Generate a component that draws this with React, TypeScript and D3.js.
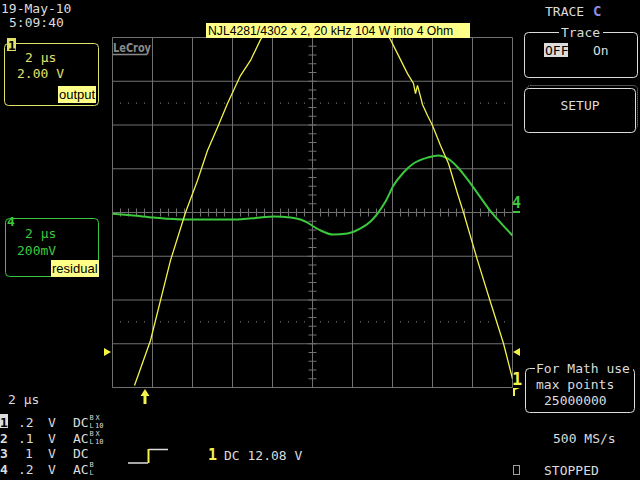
import React from "react";
import * as d3 from "d3";

// Channel 1 (output), time in µs, volts (2 V/div)
const ch1Time = [-8.9, -8.1, -7.1, -6.35, -5.75, -5.25, -4.75, -4.25, -3.6, -3.1, -2.6, -1.5, 0.65, 2.8, 3.9, 4.75, 5.05, 5.15, 5.25, 5.4, 5.5, 5.75, 6.0, 6.4, 6.8, 7.25, 7.55, 8.25, 8.9, 9.55, 10.0];
const ch1Volts = [-7.91, -5.85, -2.19, 0, 1.46, 2.83, 3.89, 4.98, 6.26, 6.95, 7.9, 9.5, 10.6, 9.5, 7.9, 6.35, 5.9, 5.44, 5.81, 5.3, 4.94, 4.43, 3.98, 3.06, 2.24, 0.87, 0, -2.19, -4.1, -5.99, -7.6];

// Channel 4 (residual), time in µs, mV (200 mV/div)
const ch4Time = [-10, -8.95, -7.95, -6.45, -3.95, -2.6, -1.95, -1.1, -0.6, -0.25, 0.05, 0.4, 1.05, 1.75, 2.4, 2.9, 3.25, 3.65, 4.05, 4.55, 5.05, 5.75, 6.3, 6.75, 7.4, 7.75, 8.05, 8.4, 8.8, 9.4, 10];
const ch4MilliVolts = [-6, -14, -23, -32, -32, -23, -18, -23, -32, -46, -64, -82, -101, -96, -73, -41, -5, 50, 123, 183, 224, 251, 261, 247, 192, 151, 114, 69, 18, -46, -105];

const title = "NJL4281/4302 x 2, 20 kHz 104 W into 4 Ohm";
const dateText = "19-May-10";
const timeText = "5:09:40";
const timebase = "2 µs";
const ch1Scale = "2.00 V";
const ch4Scale = "200mV";
const ch1Label = "output";
const ch4Label = "residual";
const channelRows = [
  { ch: "1", volts: ".2", coupling: "DC", sup: "B", sub: "L", x: "X", ten: "10" },
  { ch: "2", volts: ".1", coupling: "AC", sup: "B", sub: "L", x: "X", ten: "10" },
  { ch: "3", volts: "1", coupling: "DC", sup: "", sub: "", x: "", ten: "" },
  { ch: "4", volts: ".2", coupling: "AC", sup: "B", sub: "L", x: "", ten: "" },
];

const L = 112.5, R = 512.5, T = 37.5, B = 387.5;
const MONO = "'DejaVu Sans Mono', monospace";
const SANS = "'Liberation Sans', Arial, sans-serif";
const GRID = "#707070";
const YEL = "#f2f24a";
const YELTXT = "#e2e26a";
const GRN = "#3cc83c";
const WHT = "#dcdcdc";

export default function App() {
  const x = d3.scaleLinear().domain([-10, 10]).range([L, R]);
  const y1 = d3.scaleLinear().domain([-8, 8]).range([B, T]);
  const y4 = d3.scaleLinear().domain([-800, 800]).range([B, T]);

  const line1 = d3.line<number>().x((_, i) => x(ch1Time[i])).y((v) => y1(v));
  const line4 = d3.line<number>().x((_, i) => x(ch4Time[i])).y((v) => y4(v)).curve(d3.curveMonotoneX);

  const vLines = x.ticks(10);
  const hLines = y1.ticks(8);
  const minorX = d3.range(-10, 10.001, 0.4);
  const minorY = d3.range(-8, 8.001, 0.4);
  const dotX = minorX.filter((t) => Math.abs(t / 2 - Math.round(t / 2)) > 0.01);

  return (
    <svg width={640} height={480} style={{ position: "fixed", left: 0, top: 0, display: "block", background: "#000" }}>
      <rect x={0} y={0} width={640} height={480} fill="#000" />
      <defs>
        <clipPath id="grid">
          <rect x={L} y={T} width={R - L} height={B - T} />
        </clipPath>
      </defs>

      {/* grid */}
      {vLines.map((t) => (
        <line key={"v" + t} x1={x(t)} x2={x(t)} y1={T} y2={B} stroke={GRID} strokeWidth={1} />
      ))}
      {hLines.map((v) => (
        <line key={"h" + v} x1={L} x2={R} y1={y1(v)} y2={y1(v)} stroke={GRID} strokeWidth={1} />
      ))}
      {minorX.map((t) => (
        <line key={"mx" + t} x1={x(t)} x2={x(t)} y1={y1(0) - 4} y2={y1(0) + 4} stroke={GRID} />
      ))}
      {minorY.map((v) => (
        <line key={"my" + v} x1={x(0) - 4} x2={x(0) + 4} y1={y1(v)} y2={y1(v)} stroke={GRID} />
      ))}
      {[5, -5].map((v) =>
        dotX.map((t) => (
          <rect key={"d" + v + "_" + t} x={x(t) - 0.5} y={y1(v) - 0.5} width={1} height={1} fill="#888" />
        ))
      )}

      {/* LeCroy logo */}
      <text x={113} y={52} fontFamily="'DejaVu Sans Condensed', 'DejaVu Sans', sans-serif" fontWeight="bold" fontSize={12.5} fill="#8a8a8a" textLength={38} lengthAdjust="spacingAndGlyphs">LeCroy</text>
      <line x1={113} x2={147} y1={54.5} y2={54.5} stroke="#8a8a8a" strokeWidth={1.5} />

      {/* traces */}
      <g clipPath="url(#grid)">
        <path d={line4(ch4MilliVolts) || ""} fill="none" stroke={GRN} strokeWidth={2} />
        <path d={line1(ch1Volts) || ""} fill="none" stroke={YEL} strokeWidth={1.3} />
      </g>

      {/* title */}
      <rect x={206} y={23} width={264} height={15} fill="#ffff88" />
      <text x={208} y={35} fontFamily={SANS} fontSize={12.2} fill="#000">{title}</text>

      {/* date/time */}
      <text x={1} y={13} fontFamily={MONO} fontSize={13} fill={WHT}>{dateText}</text>
      <text x={9} y={27} fontFamily={MONO} fontSize={13} fill={WHT}>{timeText}</text>

      {/* channel 1 box */}
      <rect x={4.5} y={43.5} width={94} height={62} rx={4} fill="none" stroke={YELTXT} />
      <rect x={7} y={38} width={9} height={13} fill={YELTXT} />
      <text x={8} y={50} fontFamily={MONO} fontWeight="bold" fontSize={13} fill="#000">1</text>
      <text x={25} y={62} fontFamily={MONO} fontSize={13} fill={YELTXT}>{timebase}</text>
      <text x={17} y={78} fontFamily={MONO} fontSize={13} fill={YELTXT}>{ch1Scale}</text>
      <rect x={58} y={86} width={38} height={17} fill="#ffff88" />
      <text x={59} y={99} fontFamily={SANS} fontSize={13} fill="#000">{ch1Label}</text>

      {/* channel 4 box */}
      <rect x={5.5} y={218.5} width={93} height={58} rx={4} fill="none" stroke={GRN} />
      <text x={7} y={226} fontFamily={MONO} fontWeight="bold" fontSize={13} fill={GRN}>4</text>
      <text x={25} y={238} fontFamily={MONO} fontSize={13} fill={GRN}>{timebase}</text>
      <text x={17} y={255} fontFamily={MONO} fontSize={13} fill={GRN}>{ch4Scale}</text>
      <rect x={51} y={260} width={48} height={17} fill="#ffff88" />
      <text x={52} y={273} fontFamily={SANS} fontSize={13} fill="#000">{ch4Label}</text>

      {/* markers */}
      <polygon points="104,348 104,356 111,352" fill={YEL} />
      <polygon points="520,348 520,356 513,352" fill={YEL} />
      <text x={512} y={385} fontFamily={MONO} fontWeight="bold" fontSize={17} fill={YEL}>1</text>
      <polygon points="513,388 520,388 515,390 515,396 513,396" fill={YEL} />
      <text x={512} y={208} fontFamily={MONO} fontWeight="bold" fontSize={15} fill={GRN}>4</text>
      <rect x={513} y={211} width={7} height={2} fill={GRN} />
      <polygon points="145,389 140.5,396 149.5,396" fill={YEL} />
      <rect x={143.5} y={395} width={3} height={9} fill={YEL} />

      {/* right panel */}
      <text x={545} y={16} fontFamily={MONO} fontSize={13} fill={WHT}>TRACE</text>
      <text x={593} y={16} fontFamily={MONO} fontWeight="bold" fontSize={14} fill="#8c8ce6">C</text>
      <rect x={524.5} y={32.5} width={113} height={45} rx={4} fill="none" stroke={WHT} />
      <rect x={559} y={26} width={44} height={12} fill="#000" />
      <text x={580.5} y={37} textAnchor="middle" fontFamily={MONO} fontSize={13} fill={WHT}>Trace</text>
      <rect x={544} y={43} width={24} height={14} fill={WHT} />
      <text x={545} y={55} fontFamily={MONO} fontSize={13} fill="#000">OFF</text>
      <text x={593} y={55} fontFamily={MONO} fontSize={13} fill={WHT}>On</text>

      <rect x={526.5} y={85.5} width={111} height={44} rx={4} fill="none" stroke="#9a9a9a" strokeDasharray="1,1" />
      <rect x={524.5} y={88.5} width={111} height={44} rx={4} fill="#000" stroke={WHT} />
      <text x={580} y={110} textAnchor="middle" fontFamily={MONO} fontSize={13} fill={WHT}>SETUP</text>

      <rect x={525.5} y={368.5} width={109} height={44} rx={4} fill="none" stroke={WHT} />
      <rect x={535} y={360} width={98} height={14} fill="#000" />
      <text x={536} y={373} fontFamily={MONO} fontSize={13} fill={WHT}>For Math use</text>
      <text x={536} y={389} fontFamily={MONO} fontSize={13} fill={WHT}>max points</text>
      <text x={544} y={405} fontFamily={MONO} fontSize={13} fill={WHT}>25000000</text>
      <text x={553} y={443} fontFamily={MONO} fontSize={13} fill={WHT}>500 MS/s</text>
      <rect x={513.5} y={465.5} width={6} height={9} fill="none" stroke="#a0a0a0" />
      <text x={544} y={475} fontFamily={MONO} fontSize={13} fill={WHT}>STOPPED</text>

      {/* bottom left */}
      <text x={8} y={404} fontFamily={MONO} fontSize={13} fill={WHT}>{timebase}</text>
      {channelRows.map((r, i) => {
        const by = 427 + i * 15.7;
        return (
          <g key={r.ch}>
            {i === 0 ? (
              <>
                <rect x={0} y={by - 13} width={8} height={14} fill={WHT} />
                <text x={0} y={by} fontFamily={MONO} fontWeight="bold" fontSize={13} fill="#000">{r.ch}</text>
              </>
            ) : (
              <text x={0} y={by} fontFamily={MONO} fontWeight="bold" fontSize={13} fill={WHT}>{r.ch}</text>
            )}
            <text x={r.volts.length === 1 ? 25 : 18} y={by} fontFamily={MONO} fontSize={13} fill={WHT}>{r.volts}</text>
            <text x={48} y={by} fontFamily={MONO} fontSize={13} fill={WHT}>V</text>
            <text x={73} y={by} fontFamily={MONO} fontSize={13} fill={WHT}>{r.coupling}</text>
            {r.sup && <text x={89.5} y={by - 7} fontFamily={MONO} fontSize={7} fill={WHT}>{r.sup}</text>}
            {r.sub && <text x={89.5} y={by + 1} fontFamily={MONO} fontSize={7} fill={WHT}>{r.sub}</text>}
            {r.x && <text x={95.5} y={by - 7} fontFamily={MONO} fontSize={7} fill={WHT}>{r.x}</text>}
            {r.ten && <text x={95} y={by + 1} fontFamily={MONO} fontSize={7} fill={WHT}>{r.ten}</text>}
          </g>
        );
      })}

      {/* trigger */}
      <polyline points="128,463 148,463" fill="none" stroke={WHT} strokeWidth={1.5} />
      <line x1={148.5} x2={148.5} y1={463} y2={449} stroke={YEL} strokeWidth={2} />
      <polyline points="149,449.5 168,449.5" fill="none" stroke={WHT} strokeWidth={1.5} />
      <text x={208} y={460} fontFamily={MONO} fontWeight="bold" fontSize={15} fill={YEL}>1</text>
      <text x={224} y={460} fontFamily={MONO} fontSize={13} fill={WHT}>DC 12.08 V</text>
    </svg>
  );
}
